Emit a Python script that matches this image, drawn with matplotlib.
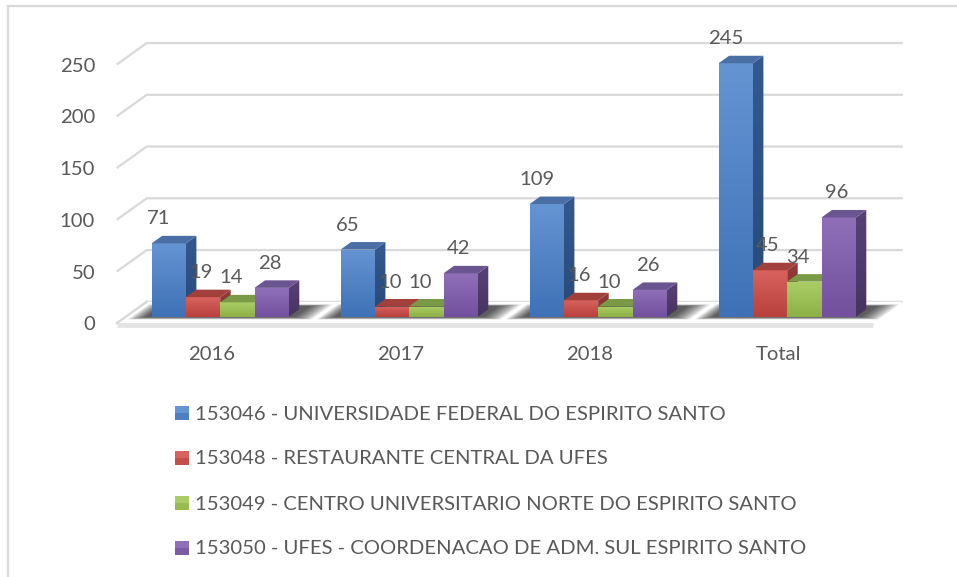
import numpy as np
import matplotlib
matplotlib.use("Agg")
import matplotlib.pyplot as plt
from matplotlib.patches import Polygon, Rectangle

# ---------------- data ----------------
categories = ["2016", "2017", "2018", "Total"]
series_names = [
    "153046 - UNIVERSIDADE FEDERAL DO ESPIRITO SANTO",
    "153048 - RESTAURANTE CENTRAL DA UFES",
    "153049 - CENTRO UNIVERSITARIO NORTE DO ESPIRITO SANTO",
    "153050 - UFES - COORDENACAO DE ADM. SUL ESPIRITO SANTO",
]
s153046 = [71, 65, 109, 245]
s153048 = [19, 10, 16, 45]
s153049 = [14, 10, 10, 34]
s153050 = [28, 42, 26, 96]
yticks = [0, 50, 100, 150, 200, 250]

series_values = [s153046, s153048, s153049, s153050]

# ---------------- styles ----------------
front_cols = [("#6594d3", "#3e71b6"), ("#d8625e", "#b9413d"),
              ("#abcd66", "#8cb045"), ("#8f70b8", "#72509d")]
top_cols = ["#4a6fa5", "#a2403c", "#7a9a45", "#6a5590"]
side_cols = [("#33598f", "#284a7a"), ("#96393a", "#80302d"),
             ("#6f8f3b", "#5f7d30"), ("#574278", "#46345f")]
label_dx_px = [-1, 7, 2.5, 7]
TXT = "#595959"
GRID = "#d9d9d9"
FONT = "Lato"
FS = 14.6

W_PX, H_PX = 957, 577
PX_CAT = 189.0          # pixels per category
X_LEFT_PX = 116.7       # front-left corner of floor
S = 1.035               # pixels per value unit
Y0_PX = 323.3           # front floor at value 0
DX = 30.0 / PX_CAT      # depth offset (category units)
DY = 21.5 / S           # depth offset (value units)
F0, F1 = 0.30, 0.65     # bar depth range
BW = 34.3 / PX_CAT
GAP = (1 - 4 * BW) / 2

fig = plt.figure(figsize=(W_PX / 100, H_PX / 100), dpi=100)
ax = fig.add_axes([0, 0, 1, 1])
xl = -0.5 - X_LEFT_PX / PX_CAT
ax.set_xlim(xl, xl + W_PX / PX_CAT)
ax.set_ylim(-(H_PX - Y0_PX) / S, Y0_PX / S)
ax.axis("off")


def P(x, v, f):
    return (x + f * DX, v + f * DY)


def grad_poly(pts, c_top, c_bot, z):
    pts = np.array(pts)
    poly = Polygon(pts, closed=True, facecolor="none", edgecolor="none", zorder=z)
    ax.add_patch(poly)
    xmin, ymin = pts.min(axis=0)
    xmax, ymax = pts.max(axis=0)
    c1 = np.array(matplotlib.colors.to_rgb(c_top))
    c2 = np.array(matplotlib.colors.to_rgb(c_bot))
    t = np.linspace(0, 1, 64)[:, None]
    g = c1 * (1 - t) + c2 * t
    img = g[:, None, :]
    im = ax.imshow(img, extent=(xmin, xmax, ymin, ymax), origin="upper",
                   aspect="auto", zorder=z, interpolation="bilinear")
    im.set_clip_path(poly)


# ---------------- walls & gridlines ----------------
xr = len(categories) - 0.5
for v in yticks:
    a = P(-0.5, v, 0)
    b = P(-0.5, v, 1)
    c = P(xr, v, 1)
    ax.plot([a[0], b[0], c[0]], [a[1], b[1], c[1]], color=GRID, lw=1.6,
            zorder=1, solid_capstyle="butt")

# floor slab
fl = [P(-0.5, 0, 0), P(xr, 0, 0), P(xr, 0, 1), P(-0.5, 0, 1)]
ax.add_patch(Polygon(fl, closed=True, facecolor="white", edgecolor="none", zorder=1.5))
ax.plot([fl[0][0], fl[1][0]], [fl[0][1] - 1.5 / S, fl[1][1] - 1.5 / S],
        color="#e4e4e4", lw=3.5, zorder=1.6, solid_capstyle="butt")
ax.plot([fl[0][0], fl[3][0]], [fl[0][1], fl[3][1]], color=GRID, lw=1.6, zorder=1.6)

# ---------------- shadows ----------------
for i in range(len(categories)):
    gl = i - 0.5 + GAP
    gr = gl + 4 * BW
    for k in range(9):
        e = (9 - k) / 9.0
        x0 = gl - (4 + 16 * e) / PX_CAT
        x1 = gr + (4 + 22 * e) / PX_CAT
        fa = 0.30 - 0.12 * e
        fb = 0.80 + 0.08 * e
        pts = [P(x0, 0, fa), P(x1, 0, fa), P(x1, 0, fb), P(x0, 0, fb)]
        ax.add_patch(Polygon(pts, closed=True, facecolor="black", edgecolor="none",
                             alpha=0.10, zorder=2))

# ---------------- bars ----------------
for i in range(len(categories)):
    for j, vals in enumerate(series_values):
        h = vals[i]
        x0 = i - 0.5 + GAP + j * BW
        x1 = x0 + BW
        z = 3 + i * 10 + j * 2
        side = [P(x1, 0, F0), P(x1, 0, F1), P(x1, h, F1), P(x1, h, F0)]
        grad_poly(side, side_cols[j][0], side_cols[j][1], z)
        front = [P(x0, 0, F0), P(x1, 0, F0), P(x1, h, F0), P(x0, h, F0)]
        grad_poly(front, front_cols[j][0], front_cols[j][1], z + 0.5)
        top = [P(x0, h, F0), P(x1, h, F0), P(x1, h, F1), P(x0, h, F1)]
        ax.add_patch(Polygon(top, closed=True, facecolor=top_cols[j],
                             edgecolor="none", zorder=z + 0.6))
        cx = (x0 + x1) / 2 + label_dx_px[j] / PX_CAT
        cy = P(x0, h, F0)[1] + 24.5 / S
        ax.text(cx, cy, str(h), ha="center", va="center", fontsize=FS,
                color=TXT, family=FONT, zorder=100)

# ---------------- axis labels ----------------
for v in yticks:
    ax.text(-0.5 - 21.7 / PX_CAT, v - 1.5 / S, str(v), ha="right", va="center",
            fontsize=FS, color=TXT, family=FONT)
for i, c in enumerate(categories):
    ax.text(i, -31.5 / S, c, ha="center", va="center", fontsize=FS,
            color=TXT, family=FONT)

# ---------------- legend & border (pixel overlay) ----------------
ov = fig.add_axes([0, 0, 1, 1], facecolor="none")
ov.set_xlim(0, W_PX)
ov.set_ylim(H_PX, 0)
ov.axis("off")
leg_y0, leg_dy = 413, 45
for j, name in enumerate(series_names):
    yc = leg_y0 + j * leg_dy
    ov.add_patch(Rectangle((175, yc - 7), 14, 14, facecolor=front_cols[j][0],
                           edgecolor="none"))
    ov.add_patch(Rectangle((175, yc), 14, 7, facecolor=front_cols[j][1],
                           edgecolor="none", alpha=0.6))
    ov.text(195, yc + 1, name, ha="left", va="center", fontsize=FS,
            color=TXT, family=FONT)

ov.plot([8, 8], [6, H_PX], color=GRID, lw=1.6)
ov.plot([8, W_PX], [6, 6], color=GRID, lw=1.6)

fig.savefig("out.png", dpi=100)
